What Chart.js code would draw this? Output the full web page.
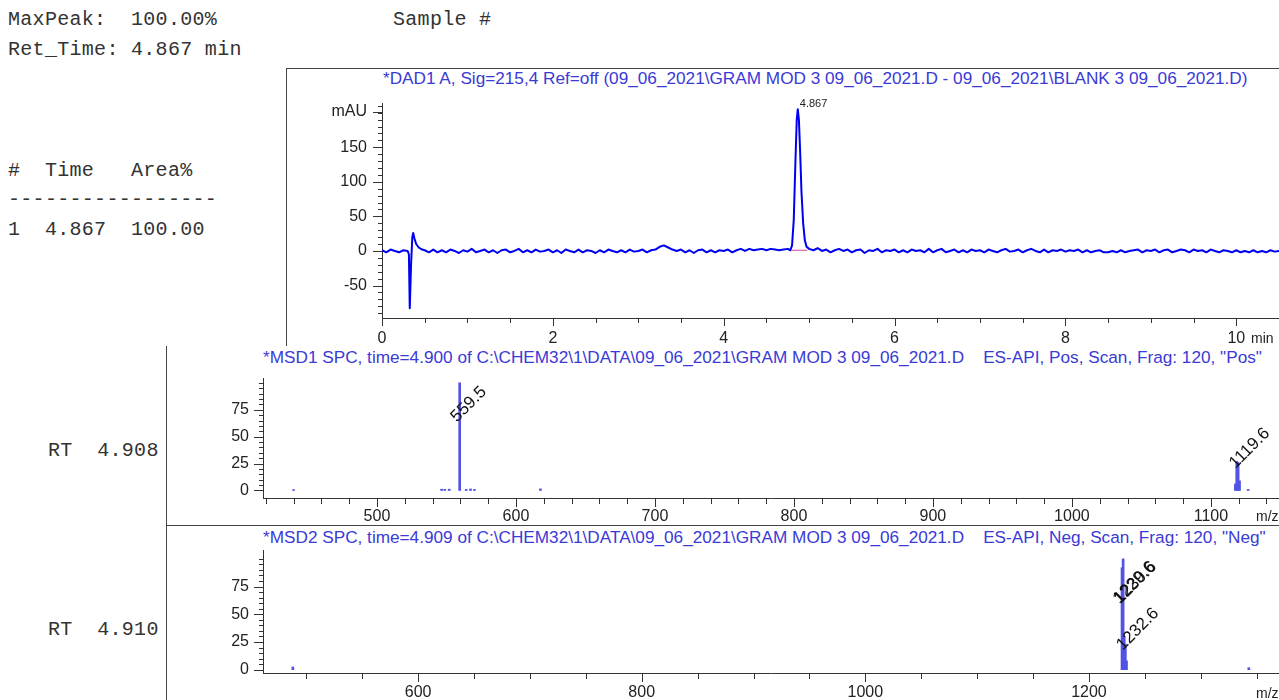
<!DOCTYPE html>
<html><head><meta charset="utf-8">
<script src="https://cdn.jsdelivr.net/npm/chart.js@4.4.1/dist/chart.umd.min.js"></script>
<style>
html,body{margin:0;padding:0;background:#fff;width:1279px;height:700px;overflow:hidden;position:relative}
.mono{position:absolute;font-family:'Liberation Mono',monospace;font-size:20px;line-height:20px;letter-spacing:0.3px;color:#333;white-space:pre}
.ttl{position:absolute;font-family:'Liberation Sans',Arial,sans-serif;font-size:17.2px;line-height:18px;color:#3a3ad6;white-space:pre}
.unit{position:absolute;font-family:'Liberation Sans',Arial,sans-serif;font-size:14px;line-height:14px;color:#222;white-space:pre}
canvas{position:absolute}
.ln{position:absolute;background:#444}
</style></head><body>

<div class="mono" style="left:8px;top:10px">MaxPeak:  100.00%</div>
<div class="mono" style="left:8px;top:40px">Ret_Time: 4.867 min</div>
<div class="mono" style="left:393px;top:10px">Sample #</div>
<div class="mono" style="left:8px;top:161px">#  Time   Area%</div>
<div class="mono" style="left:8px;top:190px">-----------------</div>
<div class="mono" style="left:8px;top:220px">1  4.867  100.00</div>
<div class="mono" style="left:48px;top:441px">RT  4.908</div>
<div class="mono" style="left:48px;top:620px">RT  4.910</div>

<div class="ln" style="left:286px;top:68px;width:993px;height:1px"></div>
<div class="ln" style="left:286px;top:68px;width:1px;height:278px"></div>
<div class="ln" style="left:166px;top:346px;width:1px;height:354px"></div>
<div class="ln" style="left:166px;top:525px;width:1113px;height:1px"></div>

<div class="ttl" style="left:383px;top:69px">*DAD1 A, Sig=215,4 Ref=off (09_06_2021\GRAM MOD 3 09_06_2021.D - 09_06_2021\BLANK 3 09_06_2021.D)</div>
<div class="ttl" style="left:263px;top:348px">*MSD1 SPC, time=4.900 of C:\CHEM32\1\DATA\09_06_2021\GRAM MOD 3 09_06_2021.D    ES-API, Pos, Scan, Frag: 120, "Pos"</div>
<div class="ttl" style="left:263px;top:528px">*MSD2 SPC, time=4.909 of C:\CHEM32\1\DATA\09_06_2021\GRAM MOD 3 09_06_2021.D    ES-API, Neg, Scan, Frag: 120, "Neg"</div>

<canvas id="dad" width="997" height="267" style="left:282px;top:85px"></canvas>
<canvas id="msd1" width="1109" height="164" style="left:170px;top:366px"></canvas>
<canvas id="msd2" width="1109" height="164" style="left:170px;top:536px"></canvas>

<div class="unit" style="left:1251px;top:331px">min</div>
<div class="unit" style="left:1256px;top:509px">m/z</div>
<div class="unit" style="left:1256px;top:686px">m/z</div>

<script>
// ---------------- DATA ----------------
const dadTime = [
 0,0.05,0.1,0.15,0.2,0.25,0.3,0.315,0.325,0.34,0.355,0.365,0.38,0.4,0.43,0.47,
 0.5,0.55,0.6,0.65,0.7,0.75,0.8,0.85,0.9,0.95,
 1,1.05,1.1,1.15,1.2,1.25,1.3,1.35,1.4,1.45,1.5,1.55,1.6,1.65,1.7,1.75,1.8,1.85,1.9,1.95,
 2,2.05,2.1,2.15,2.2,2.25,2.3,2.35,2.4,2.45,2.5,2.55,2.6,2.65,2.7,2.75,2.8,2.85,2.9,2.95,
 3,3.05,3.1,3.15,3.2,3.25,3.3,3.35,3.4,3.45,3.5,3.55,3.6,3.65,3.7,3.75,3.8,3.85,3.9,3.95,
 4,4.05,4.1,4.15,4.2,4.25,4.3,4.35,4.4,4.45,4.5,4.55,4.6,4.65,4.7,4.75,
 4.78,4.8,4.82,4.84,4.855,4.867,4.88,4.895,4.91,4.93,4.95,4.97,5,
 5.05,5.1,5.15,5.2,5.25,5.3,5.35,5.4,5.45,5.5,5.55,5.6,5.65,5.7,5.75,5.8,5.85,5.9,5.95,
 6,6.05,6.1,6.15,6.2,6.25,6.3,6.35,6.4,6.45,6.5,6.55,6.6,6.65,6.7,6.75,6.8,6.85,6.9,6.95,
 7,7.05,7.1,7.15,7.2,7.25,7.3,7.35,7.4,7.45,7.5,7.55,7.6,7.65,7.7,7.75,7.8,7.85,7.9,7.95,
 8,8.05,8.1,8.15,8.2,8.25,8.3,8.35,8.4,8.45,8.5,8.55,8.6,8.65,8.7,8.75,8.8,8.85,8.9,8.95,
 9,9.05,9.1,9.15,9.2,9.25,9.3,9.35,9.4,9.45,9.5,9.55,9.6,9.65,9.7,9.75,9.8,9.85,9.9,9.95,
 10,10.05,10.1,10.15,10.2,10.25,10.3,10.35,10.4,10.45,10.5
];
const dadMAU = [
 1,-2,2,0,-2,1,0,-5,-83,-20,20,26,18,10,5,2,
 1,-2,2,-2,1,-2,2,0,-3,1,
 -1,3,-2,0,2,-2,1,-3,1,2,-2,0,3,-2,1,-2,2,-1,0,2,
 -2,1,-3,2,0,-2,2,-2,1,0,-3,1,-2,2,0,-2,1,-2,2,-1,
 0,2,-2,1,2,6,8,5,2,0,2,-2,1,-3,1,2,-2,1,-2,1,
 0,2,-2,1,3,0,3,1,2,3,1,3,2,1,2,3,
 1,8,45,132,190,205,190,142,86,40,15,6,3,
 1,4,0,2,-2,1,3,0,2,-2,1,2,-3,1,0,3,-2,1,0,
 2,-2,1,-2,2,0,1,-2,3,-2,1,3,-2,0,2,-2,1,-2,2,0,
 1,-2,2,0,-2,1,3,-1,0,2,-2,1,3,0,-2,2,-2,1,0,2,
 -1,1,0,2,-2,1,-2,0,1,-2,-2,0,-2,1,-2,0,1,2,-2,1,
 0,2,-2,1,2,-2,0,2,1,-2,2,0,1,-2,2,0,-2,1,0,-2,
 1,-2,0,-2,1,-2,0,-2,1,-1,0
];
const dadBaseTime = [4.79, 4.98];
const dadBaseMAU = [1, 1];
const dadPeakTimes = [4.867];
const dadXTicks = [0, 2, 4, 6, 8, 10];
const dadYTicks = [-50, 0, 50, 100, 150];
const dadYUnitAt = 201;
const dadYUnit = 'mAU';

const msd1Mz  = [440.0, 546.5, 548.8, 552.0, 559.5, 564.2, 567.3, 570.1, 617.6, 1117.6, 1118.6, 1119.6, 1120.6, 1126.8];
const msd1Int = [0.8,   1.2,   1.0,   1.2,   100,   1.0,   1.4,   1.0,   1.5,   6,      27,     26,     9,      1.0];
const msd1LabelMz = [559.5, 1119.6];
const msd1XTicks = [500, 600, 700, 800, 900, 1000, 1100];

const msd2Mz  = [488.0, 1229.6, 1230.6, 1231.6, 1232.6, 1233.6, 1343.0];
const msd2Int = [2.5,   92,     100,    30,     23,     8,      1.8];
const msd2LabelMz = [1229.6, 1230.6, 1232.6];
const msd2XTicks = [600, 800, 1000, 1200];

const msYTicks = [0, 25, 50, 75];

// ---------------- HELPERS ----------------
const FONT = {family:"'Liberation Sans', Arial, sans-serif", size:16};
const INK = '#222';

function axisX(min, max, ticks, h, pad){
  return {type:'linear', min, max, offset:false,
    grid:{display:false, drawTicks:false},
    border:{display:true, color:'#333', width:1},
    ticks:{autoSkip:false, maxRotation:0, minRotation:0, padding:pad, color:INK, font:FONT, callback:v=>String(v)},
    afterBuildTicks:s=>{ s.ticks = ticks.map(v=>({value:v})); },
    afterFit:s=>{ s.height = h; s.paddingLeft = 0; s.paddingRight = 0; }
  };
}
function axisY(min, max, ticks, w, pad, labelFn){
  return {type:'linear', min, max,
    grid:{display:false, drawTicks:false},
    border:{display:true, color:'#333', width:1},
    ticks:{autoSkip:false, padding:pad, color:INK, font:FONT, callback:labelFn || (v=>String(v))},
    afterBuildTicks:s=>{ s.ticks = ticks.map(v=>({value:v})); },
    afterFit:s=>{ s.width = w; s.paddingTop = 0; s.paddingBottom = 0; }
  };
}
function range(from, to, step){ const r=[]; for(let v=from; v<=to+1e-9; v+=step) r.push(+v.toFixed(6)); return r; }

const tickMarks = {
  id:'tickMarks',
  afterDraw(chart, args, o){
    if(!o || !o.xMajor) return;
    const ctx = chart.ctx, xs = chart.scales.x, ys = chart.scales.y, a = chart.chartArea;
    ctx.save(); ctx.strokeStyle = '#333'; ctx.lineWidth = 1; ctx.beginPath();
    const xt = (list, len)=>list.forEach(v=>{ const p = Math.round(xs.getPixelForValue(v)) + 0.5;
      if(p < a.left - 1 || p > a.right + 1) return; ctx.moveTo(p, a.bottom); ctx.lineTo(p, a.bottom + len); });
    const yt = (list, len)=>list.forEach(v=>{ const p = Math.round(ys.getPixelForValue(v)) + 0.5;
      if(p < a.top - 1 || p > a.bottom + 1) return; ctx.moveTo(a.left, p); ctx.lineTo(a.left - len, p); });
    xt(o.xMinor, o.xMinorLen); xt(o.xMajor, o.xMajorLen);
    yt(o.yMinor, o.yMinorLen); yt(o.yMajor, o.yMajorLen);
    ctx.stroke(); ctx.restore();
  }
};
const peakLabels = {
  id:'peakLabels',
  afterDatasetsDraw(chart, args, o){
    if(!o || !o.items) return;
    const ctx = chart.ctx, xs = chart.scales.x, ys = chart.scales.y;
    ctx.save();
    ctx.font = o.font; ctx.fillStyle = o.color; ctx.textAlign = 'left'; ctx.textBaseline = 'middle';
    o.items.forEach(it=>{
      const yv = Math.min(it.h - o.drop, o.cap);
      const px = xs.getPixelForValue(it.x) + o.dx, py = ys.getPixelForValue(yv) + o.dy;
      ctx.save(); ctx.translate(px, py); ctx.rotate(o.angle); ctx.fillText(it.text, 0, 0); ctx.restore();
    });
    ctx.restore();
  }
};
Chart.register(tickMarks, peakLabels);
Chart.defaults.animation = false;
Chart.defaults.devicePixelRatio = 1;

const commonOpts = (pad)=>({responsive:false, events:[], layout:{padding:pad},
  plugins:{legend:{display:false}, tooltip:{enabled:false}}});

// ---------------- DAD chromatogram ----------------
(function(){
  const o = commonOpts({top:18, right:0, left:0, bottom:0});
  o.scales = {
    x: axisX(0, 10.5, dadXTicks, 34, 10.5),
    y: axisY(-97, 214, [...dadYTicks, dadYUnitAt], 100, 15, v=> v===dadYUnitAt ? dadYUnit : String(v))
  };
  o.plugins.tickMarks = {xMajor:dadXTicks, xMinor:range(0,10.5,0.5), xMajorLen:8, xMinorLen:5,
    yMajor:[...dadYTicks, dadYUnitAt], yMinor:range(-90,210,10), yMajorLen:9, yMinorLen:4};
  o.plugins.peakLabels = {font:"11px 'Liberation Sans', Arial, sans-serif", color:'#222', angle:0, dx:2, dy:-5, cap:1e9, drop:0,
    items: dadPeakTimes.map(t=>({x:t, h:dadMAU[dadTime.indexOf(t)], text:t.toFixed(3)}))};
  new Chart(document.getElementById('dad'), {
    type:'line',
    data:{datasets:[
      {data:dadBaseTime.map((t,i)=>({x:t,y:dadBaseMAU[i]})), borderColor:'#e0409a', borderWidth:1, pointRadius:0},
      {data:dadTime.map((t,i)=>({x:t,y:dadMAU[i]})), borderColor:'#0000f0', borderWidth:2, borderJoinStyle:'round', pointRadius:0, tension:0}
    ]},
    options:o
  });
})();

// ---------------- MS spectra ----------------
function spectrum(id, mz, inten, labels, xmin, xmax, xticks, xMinorStep, ymin, ymax, xh, xpad, cap, padTop){
  const o = commonOpts({top:padTop, right:0, left:0, bottom:0});
  o.scales = { x: axisX(xmin, xmax, xticks, xh, xpad), y: axisY(ymin, ymax, msYTicks, 93, 14) };
  o.plugins.tickMarks = {xMajor:xticks, xMinor:range(Math.ceil(xmin/xMinorStep)*xMinorStep, xmax, xMinorStep), xMajorLen:9, xMinorLen:6,
    yMajor:msYTicks, yMinor:range(0,100,5), yMajorLen:9, yMinorLen:4};
  o.plugins.peakLabels = {font:"17px 'Liberation Sans', Arial, sans-serif", color:'#111', angle:-Math.PI/4, dx:-6, dy:0, cap:cap, drop:3,
    items: labels.map(m=>({x:m, h:inten[mz.indexOf(m)], text:m.toFixed(1)}))};
  new Chart(document.getElementById(id), {
    type:'bar',
    data:{datasets:[{data:mz.map((m,i)=>({x:m,y:inten[i]})), backgroundColor:'#5252e6', borderWidth:0, barThickness:2}]},
    options:o
  });
}
spectrum('msd1', msd1Mz, msd1Int, msd1LabelMz, 418, 1149, msd1XTicks, 20, -7, 104.5, 32, 9.4, 66, 12);
spectrum('msd2', msd2Mz, msd2Int, msd2LabelMz, 461.3, 1370, msd2XTicks, 50, -3, 108, 27, 10.4, 62, 14);
</script>
</body></html>
